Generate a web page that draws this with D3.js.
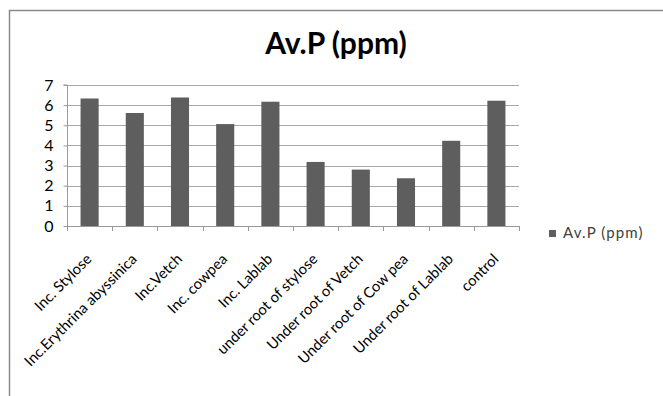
<!DOCTYPE html>
<html>
<head>
<meta charset="utf-8">
<script src="https://cdn.jsdelivr.net/npm/d3@7"></script>
<style>
  html, body { margin: 0; padding: 0; background: #fff; }
  svg { display: block; }
  text { font-family: Lato, "Open Sans", sans-serif; }
</style>
</head>
<body>
<svg id="chart" width="663" height="396"></svg>
<script>
// Available phosphorus by treatment
const categories = [
  "Inc. Stylose",
  "Inc.Erythrina abyssinica",
  "Inc.Vetch",
  "Inc. cowpea",
  "Inc. Lablab",
  "under root of stylose",
  "Under root of Vetch",
  "Under root of Cow pea",
  "Under root of Lablab",
  "control"
];
const values = [6.33, 5.61, 6.38, 5.06, 6.17, 3.18, 2.80, 2.37, 4.23, 6.22];
const yTicks = [0, 1, 2, 3, 4, 5, 6, 7];
const seriesName = "Av.P (ppm)";
const chartTitle = "Av.P (ppm)";

const svg = d3.select("#chart");
const plot = { left: 67, right: 519, top: 85, bottom: 226 };

// outer chart frame
svg.append("path")
  .attr("d", "M9.5,400 L9.5,10.5 L670,10.5")
  .attr("fill", "none")
  .attr("stroke", "#8a8a8a")
  .attr("stroke-width", 1.5);

svg.append("text")
  .attr("x", 336)
  .attr("y", 54)
  .attr("text-anchor", "middle")
  .attr("font-size", 30)
  .attr("font-weight", "bold")
  .attr("fill", "#000")
  .text(chartTitle);

const x = d3.scaleBand()
  .domain(categories)
  .range([plot.left, plot.right])
  .paddingInner(0.6)
  .paddingOuter(0.3);

const y = d3.scaleLinear()
  .domain([0, 7])
  .range([plot.bottom, plot.top]);

// horizontal gridlines
svg.append("g")
  .selectAll("line")
  .data(yTicks.filter(d => d > 0))
  .join("line")
  .attr("x1", plot.left)
  .attr("x2", plot.right)
  .attr("y1", d => Math.round(y(d)) + 0.5)
  .attr("y2", d => Math.round(y(d)) + 0.5)
  .attr("stroke", "#a8a8a8")
  .attr("stroke-width", 1.2);

// y axis
const yAxis = svg.append("g")
  .attr("transform", `translate(${plot.left + 0.5},0)`)
  .call(d3.axisLeft(y).tickValues(yTicks).tickSize(4).tickPadding(10).tickFormat(d3.format("d")));
yAxis.select(".domain").attr("stroke", "#9a9a9a").attr("d", `M-4,${plot.top}H0V${plot.bottom}`);
yAxis.selectAll(".tick line").attr("stroke", "#9a9a9a");
yAxis.selectAll(".tick text")
  .attr("font-size", 16)
  .attr("fill", "#000")
  .attr("font-family", "Lato, sans-serif");

// bars
svg.append("g")
  .selectAll("rect")
  .data(values)
  .join("rect")
  .attr("x", (d, i) => x(categories[i]))
  .attr("y", d => y(d))
  .attr("width", x.bandwidth())
  .attr("height", d => y(0) - y(d))
  .attr("fill", "#5e5e5e");

// x axis with ticks on category boundaries
const boundaries = d3.range(categories.length + 1).map(i => plot.left + i * (plot.right - plot.left) / categories.length);
svg.append("line")
  .attr("x1", plot.left).attr("x2", plot.right)
  .attr("y1", plot.bottom + 0.5).attr("y2", plot.bottom + 0.5)
  .attr("stroke", "#9a9a9a");
svg.append("g")
  .selectAll("line")
  .data(boundaries)
  .join("line")
  .attr("x1", d => Math.round(d) + 0.5).attr("x2", d => Math.round(d) + 0.5)
  .attr("y1", plot.bottom).attr("y2", plot.bottom + 5)
  .attr("stroke", "#9a9a9a");

// rotated category labels
svg.append("g")
  .selectAll("text")
  .data(categories)
  .join("text")
  .attr("transform", d => `translate(${x(d) + x.bandwidth() / 2 + 3},${plot.bottom + 34}) rotate(-45)`)
  .attr("text-anchor", "end")
  .attr("font-size", 14.8)
  .attr("fill", "#000")
  .text(d => d);

// legend
const legend = svg.append("g").attr("transform", "translate(549,230)");
legend.append("rect").attr("width", 7).attr("height", 7).attr("fill", "#5e5e5e");
legend.append("text")
  .attr("x", 14).attr("y", 8)
  .attr("font-size", 15)
  .attr("letter-spacing", 1.1)
  .attr("fill", "#404040")
  .text(seriesName);
</script>
</body>
</html>
